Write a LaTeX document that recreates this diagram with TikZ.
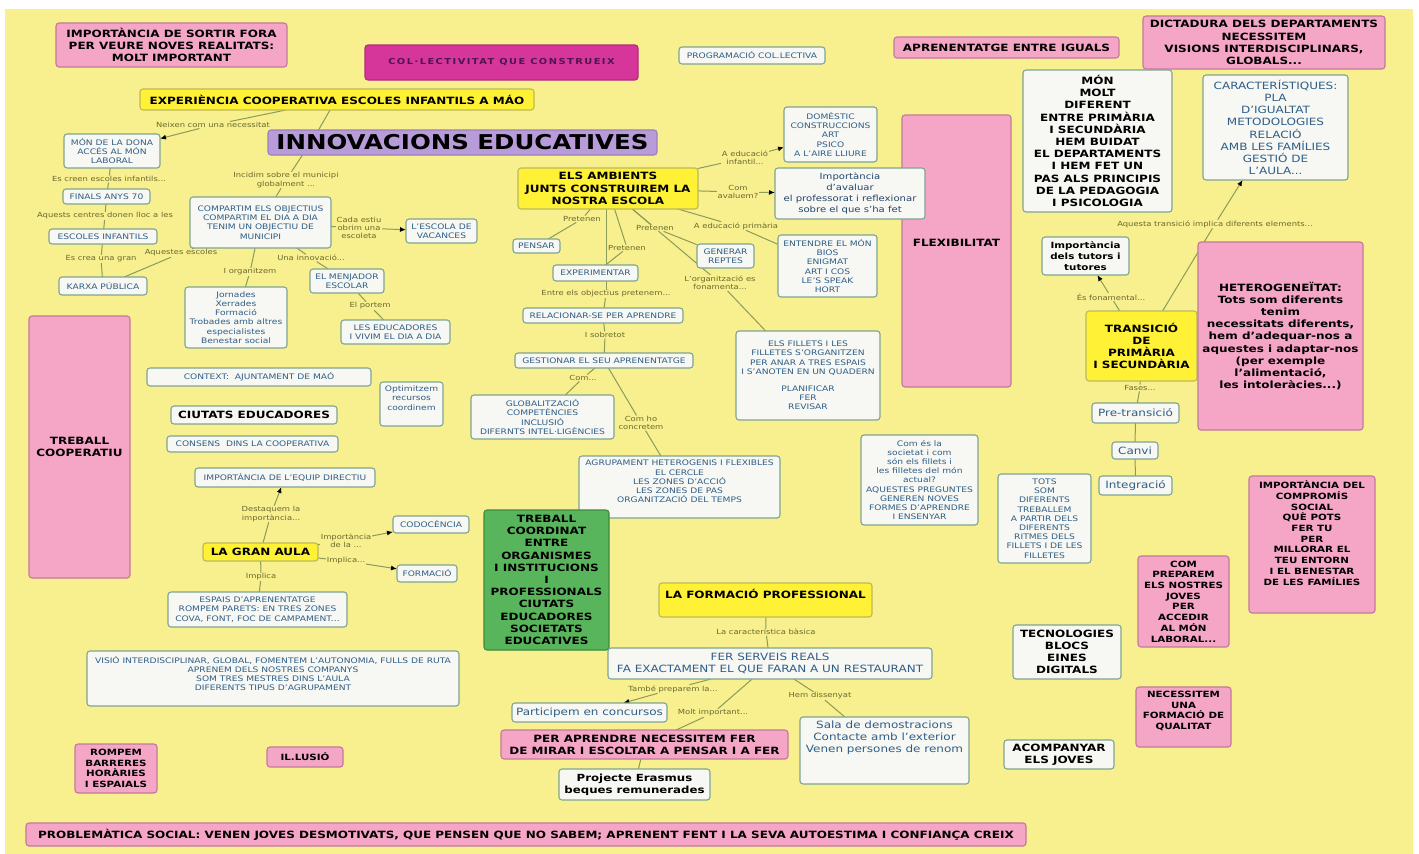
\documentclass[tikz,border=0pt]{standalone}
\usepackage{fontspec}
\setmainfont{DejaVu Sans}[FakeStretch=1.2]
\usetikzlibrary{arrows.meta}
\definecolor{bgy}{HTML}{F8EF8F}
\definecolor{wfill}{HTML}{F7F7F3}
\definecolor{wdraw}{HTML}{7FA590}
\definecolor{bluet}{HTML}{2E5E88}
\definecolor{dblue}{HTML}{23456A}
\definecolor{pinkf}{HTML}{F5A5C6}
\definecolor{pinkd}{HTML}{C27A99}
\definecolor{yelf}{HTML}{FFF236}
\definecolor{yeld}{HTML}{BDB85A}
\definecolor{magf}{HTML}{D6359A}
\definecolor{magd}{HTML}{B02A80}
\definecolor{magt}{HTML}{4E1550}
\definecolor{lavf}{HTML}{B89CD9}
\definecolor{lavd}{HTML}{9A80BE}
\definecolor{grnf}{HTML}{59B55B}
\definecolor{grnd}{HTML}{3B8A3E}
\definecolor{lblc}{HTML}{69692E}
\definecolor{linec}{HTML}{8A9C58}
\newcommand\FBig{\fontsize{10}{12.2}\selectfont\bfseries}
\newcommand\FMed{\fontsize{8.6}{10.7}\selectfont\bfseries}
\newcommand\FSm{\fontsize{7.6}{9.2}\selectfont}
\newcommand\FLbl{\fontsize{7}{8.2}\selectfont}
\newcommand\FMr{\fontsize{10}{12.2}\selectfont}
\newcommand\FPr{\fontsize{10}{12.2}\selectfont}
\newcommand\FAv{\fontsize{8.4}{11}\selectfont}
\newcommand\FEr{\fontsize{9.8}{11.7}\selectfont\bfseries}
\newcommand\BX[7]{\node[#2,minimum width={#5-#3},minimum height={#6-#4}] (#1) at ({(#3+#5)/2},{(#4+#6)/2}) {#7};}
\pgfdeclarelayer{back}\pgfdeclarelayer{wires}\pgfsetlayers{back,wires,main}
\tikzset{
  box/.style={draw, rounded corners=3pt, line width=1.1pt, align=center, inner sep=1pt, outer sep=0pt},
  wbox/.style={box, fill=wfill, draw=wdraw, text=bluet, font=\FSm},
  pbox/.style={box, fill=pinkf, draw=pinkd, text=black, font=\FBig},
  ybox/.style={box, fill=yelf, draw=yeld, text=black, font=\FBig},
  mbox/.style={box, fill=magf, draw=magd, text=magt},
  lavbox/.style={box, fill=lavf, draw=lavd, text=black},
  gbox/.style={box, fill=grnf, draw=grnd, text=black, font=\FBig},
  txt/.style={align=center, inner sep=0pt},
  lbl/.style={fill=bgy, inner sep=0.6pt, text=lblc, align=center, font=\FLbl},
  conn/.style={draw=linec, line width=1pt},
  arr/.style={conn, -{Latex[length=6pt,width=5pt,color=black]}},
}
\begin{document}
\begin{tikzpicture}[x=1pt,y=-1pt]
\begin{pgfonlayer}{back}
\fill[white] (0,0) rectangle (1419,854);
\fill[bgy] (5,9) rectangle (1413,854);
\end{pgfonlayer}
\useasboundingbox (0,0) rectangle (1419,854);
% top row
\BX{sortir}{pbox}{56}{23}{287}{67}{IMPORTÀNCIA DE SORTIR FORA\\PER VEURE NOVES REALITATS:\\MOLT IMPORTANT}
\BX{col}{mbox,font={\fontsize{8.2}{9}\selectfont\bfseries\addfontfeature{LetterSpace=18}}}{365}{45}{638}{80}{COL·LECTIVITAT QUE CONSTRUEIX}
\BX{prog}{wbox}{679}{47}{825}{64}{PROGRAMACIÓ COL.LECTIVA}
\BX{iguals}{pbox}{894}{37}{1119}{58}{APRENENTATGE ENTRE IGUALS}
\BX{dict}{pbox}{1143}{16}{1385}{69}{DICTADURA DELS DEPARTAMENTS\\NECESSITEM\\VISIONS INTERDISCIPLINARS,\\GLOBALS...}
\BX{exp}{ybox}{140}{89}{534}{110}{EXPERIÈNCIA COOPERATIVA ESCOLES INFANTILS A MÁO}
\BX{innov}{lavbox,font={\fontsize{20.4}{24}\selectfont\bfseries}}{268}{130}{657}{155}{INNOVACIONS EDUCATIVES}
% left column
\BX{mondona}{wbox}{64}{134}{160}{168}{MÓN DE LA DONA\\ACCÉS AL MÓN\\LABORAL}
\BX{finals}{wbox}{63}{189}{150}{204}{FINALS ANYS 70}
\BX{escoles}{wbox}{49}{229}{157}{244}{ESCOLES INFANTILS}
\BX{karxa}{wbox}{59}{277}{147}{295}{KARXA PÚBLICA}
\BX{compartim}{wbox}{190}{197}{331}{248}{COMPARTIM ELS OBJECTIUS\\COMPARTIM EL DIA A DIA\\TENIM UN OBJECTIU DE\\MUNICIPI}
\BX{vacances}{wbox}{406}{219}{477}{243}{L'ESCOLA DE\\VACANCES}
\BX{menjador}{wbox}{310}{269}{384}{293}{EL MENJADOR\\ESCOLAR}
\BX{jornades}{wbox}{185}{287}{287}{348}{Jornades\\Xerrades\\Formació\\Trobades amb altres\\especialistes\\Benestar social}
\BX{educadores}{wbox}{341}{320}{450}{344}{LES EDUCADORES\\I VIVIM EL DIA A DIA}
\BX{treballc}{pbox}{29}{316}{130}{578}{TREBALL\\COOPERATIU}
\BX{context}{wbox}{147}{368}{371}{386}{CONTEXT:\ \ AJUNTAMENT DE MAÓ}
\BX{optim}{wbox}{380}{382}{443}{426}{}
\node[txt,text=bluet,font=\FSm] (optimt) at (411.5,398) {Optimitzem\\recursos\\coordinem};
\BX{ciutats}{wbox,text=black,font=\FBig}{171}{406}{337}{424}{CIUTATS EDUCADORES}
\BX{consens}{wbox}{167}{436}{338}{452}{CONSENS\ \ DINS LA COOPERATIVA}
\BX{equip}{wbox}{195}{468}{375}{487}{IMPORTÀNCIA DE L'EQUIP DIRECTIU}
\BX{gran}{ybox}{203}{543}{318}{561}{LA GRAN AULA}
\BX{codo}{wbox}{393}{516}{469}{533}{CODOCÈNCIA}
\BX{formacio}{wbox}{397}{565}{457}{582}{FORMACIÓ}
\BX{espais}{wbox}{168}{592}{347}{627}{ESPAIS D'APRENENTATGE\\ROMPEM PARETS: EN TRES ZONES\\COVA, FONT, FOC DE CAMPAMENT...}
\BX{visio}{wbox}{87}{651}{459}{706}{}
\node[txt,text=bluet,font=\FSm] (visiot) at (273,673.5) {VISIÓ INTERDISCIPLINAR, GLOBAL, FOMENTEM L'AUTONOMIA, FULLS DE RUTA\\APRENEM DELS NOSTRES COMPANYS\\SOM TRES MESTRES DINS L'AULA\\DIFERENTS TIPUS D'AGRUPAMENT};
\BX{rompem}{pbox,font=\FMed}{75}{744}{157}{793}{ROMPEM\\BARRERES\\HORÀRIES\\I ESPAIALS}
\BX{ilusio}{pbox,font=\FMed}{267}{747}{343}{767}{IL.LUSIÓ}
\BX{probl}{pbox,font={\fontsize{10}{12}\selectfont\bfseries}}{26}{823}{1026}{846}{PROBLEMÀTICA SOCIAL: VENEN JOVES DESMOTIVATS, QUE PENSEN QUE NO SABEM; APRENENT FENT I LA SEVA AUTOESTIMA I CONFIANÇA CREIX}
% centre
\BX{flex}{pbox}{902}{115}{1011}{387}{}
\node[txt,font=\FBig] (flext) at (956.5,243) {FLEXIBILITAT};
\BX{amb}{ybox}{518}{168}{698}{209}{ELS AMBIENTS\\JUNTS CONSTRUIREM LA\\NOSTRA ESCOLA}
\BX{domestic}{wbox}{784}{107}{877}{162}{DOMÈSTIC\\CONSTRUCCIONS\\ART\\PSICO\\A L'AIRE LLIURE}
\BX{avaluar}{wbox,text=dblue,font=\FAv}{775}{168}{925}{219}{Importància\\d'avaluar\\el professorat i reflexionar\\sobre el que s'ha fet}
\BX{pensar}{wbox}{513}{239}{560}{253}{PENSAR}
\BX{experimentar}{wbox}{553}{265}{638}{281}{EXPERIMENTAR}
\BX{generar}{wbox}{697}{244}{754}{268}{GENERAR\\REPTES}
\BX{entendre}{wbox}{778}{235}{877}{297}{ENTENDRE EL MÓN\\BIOS\\ENIGMAT\\ART I COS\\LE'S SPEAK\\HORT}
\BX{relacionar}{wbox}{523}{308}{683}{323}{RELACIONAR-SE PER APRENDRE}
\BX{gestionar}{wbox}{515}{353}{693}{368}{GESTIONAR EL SEU APRENENTATGE}
\BX{global}{wbox}{471}{395}{614}{439}{GLOBALITZACIÓ\\COMPETÈNCIES\\INCLUSIÓ\\DIFERNTS INTEL·LIGÈNCIES}
\BX{fillets}{wbox}{736}{331}{880}{420}{ELS FILLETS I LES\\FILLETES S'ORGANITZEN\\PER ANAR A TRES ESPAIS\\I S'ANOTEN EN UN QUADERN\\[8pt]PLANIFICAR\\FER\\REVISAR}
\BX{agrup}{wbox}{579}{456}{780}{518}{}
\node[txt,text=bluet,font=\FSm] (agrupt) at (679.5,481.5) {AGRUPAMENT HETEROGENIS I FLEXIBLES\\EL CERCLE\\LES ZONES D'ACCIÓ\\LES ZONES DE PAS\\ORGANITZACIÓ DEL TEMPS};
\BX{coord}{gbox}{484}{510}{609}{650}{TREBALL\\COORDINAT\\ENTRE\\ORGANISMES\\I INSTITUCIONS\\I\\PROFESSIONALS\\CIUTATS\\EDUCADORES\\SOCIETATS\\EDUCATIVES}
\BX{comes}{wbox}{861}{435}{978}{525}{Com és la\\societat i com\\són els fillets i\\les filletes del món\\actual?\\AQUESTES PREGUNTES\\GENEREN NOVES\\FORMES D'APRENDRE\\I ENSENYAR}
\BX{tots}{wbox}{998}{474}{1091}{563}{TOTS\\SOM\\DIFERENTS\\TREBALLEM\\A PARTIR DELS\\DIFERENTS\\RITMES DELS\\FILLETS I DE LES\\FILLETES}
% right
\BX{monmolt}{wbox,text=black,font=\FBig}{1023}{70}{1172}{212}{MÓN\\MOLT\\DIFERENT\\ENTRE PRIMÀRIA\\I SECUNDÀRIA\\HEM BUIDAT\\EL DEPARTAMENTS\\I HEM FET UN\\PAS ALS PRINCIPIS\\DE LA PEDAGOGIA\\I PSICOLOGIA}
\BX{caract}{wbox,font=\FMr}{1203}{75}{1348}{180}{CARACTERÍSTIQUES:\\PLA\\D'IGUALTAT\\METODOLOGIES\\RELACIÓ\\AMB LES FAMÍLIES\\GESTIÓ DE\\L'AULA...}
\BX{tutors}{wbox,text=black,font=\FMed}{1042}{237}{1129}{275}{Importància\\dels tutors i\\tutores}
\BX{trans}{ybox}{1086}{311}{1197}{381}{TRANSICIÓ\\DE\\PRIMÀRIA\\I SECUNDÀRIA}
\BX{heter}{pbox}{1198}{242}{1363}{430}{HETEROGENEÏTAT:\\Tots som diferents\\tenim\\necessitats diferents,\\hem d'adequar-nos a\\aquestes i adaptar-nos\\(per exemple\\l'alimentació,\\les intoleràcies...)}
\BX{pret}{wbox,font=\FPr}{1092}{403}{1179}{423}{Pre-transició}
\BX{canvi}{wbox,font=\FPr}{1112}{442}{1158}{459}{Canvi}
\BX{integ}{wbox,font=\FPr}{1099}{476}{1172}{495}{Integració}
\BX{compromis}{pbox}{1249}{476}{1375}{613}{}
\node[txt,font=\FMed] (compromist) at (1312,533) {IMPORTÀNCIA DEL\\COMPROMÍS\\SOCIAL\\QUÈ POTS\\FER TU\\PER\\MILLORAR EL\\TEU ENTORN\\I EL BENESTAR\\DE LES FAMÍLIES};
\BX{compre}{pbox,font=\FMed}{1138}{556}{1229}{647}{COM\\PREPAREM\\ELS NOSTRES\\JOVES\\PER\\ACCEDIR\\AL MÓN\\LABORAL...}
\BX{tecno}{wbox,text=black,font=\FBig}{1013}{625}{1121}{679}{TECNOLOGIES\\BLOCS\\EINES\\DIGITALS}
\BX{necess}{pbox}{1136}{687}{1231}{747}{}
\node[txt,font=\FMed] (necesst) at (1183.5,711) {NECESSITEM\\UNA\\FORMACIÓ DE\\QUALITAT};
\BX{acomp}{wbox,text=black,font=\FBig}{1004}{740}{1114}{769}{ACOMPANYAR\\ELS JOVES}
% bottom centre
\BX{fprof}{ybox}{659}{583}{872}{617}{}
\node[txt,font=\FBig] (fproft) at (765.5,594) {LA FORMACIÓ PROFESSIONAL};
\BX{serveis}{wbox,font=\FPr}{608}{648}{932}{679}{FER SERVEIS REALS\\FA EXACTAMENT EL QUE FARAN A UN RESTAURANT}
\BX{partic}{wbox,font=\FPr}{512}{703}{667}{722}{Participem en concursos}
\BX{sala}{wbox}{800}{717}{969}{784}{}
\node[txt,text=bluet,font=\FPr] (salat) at (884.5,738) {Sala de demostracions\\Contacte amb l'exterior\\Venen persones de renom};
\BX{peraprendre}{pbox}{501}{730}{788}{759}{PER APRENDRE NECESSITEM FER\\DE MIRAR I ESCOLTAR A PENSAR I A FER}
\BX{erasmus}{wbox,text=black,font=\FEr}{559}{769}{710}{800}{Projecte Erasmus\\beques remunerades}
% labels
\node[lbl] (L1) at (213,125) {Neixen com una necessitat};
\node[lbl] (L2) at (109,179) {Es creen escoles infantils...};
\node[lbl] (L3) at (105,216) {Aquests centres donen lloc a les};
\node[lbl] (L4) at (101,259) {Es crea una gran};
\node[lbl] (L5) at (181,253) {Aquestes escoles};
\node[lbl] (L6) at (286,180) {Incidim sobre el municipi\\globalment ...};
\node[lbl] (L7) at (359,228) {Cada estiu\\obrim una\\escoleta};
\node[lbl] (L8) at (311,258) {Una innovació...};
\node[lbl] (L9) at (250,272) {I organitzem};
\node[lbl] (L10) at (370,306) {El portem};
\node[lbl] (L11) at (271,514) {Destaquem la\\importància...};
\node[lbl] (L12) at (346,541) {Importància\\de la ...};
\node[lbl] (L13) at (346,561) {Implica...};
\node[lbl] (L14) at (261,577) {Implica};
\node[lbl] (L15) at (745,158) {A educació\\infantil...};
\node[lbl] (L16) at (738,192) {Com\\avaluem?};
\node[lbl] (L17) at (736,226) {A educació primària};
\node[lbl] (L18) at (582,219) {Pretenen};
\node[lbl] (L19) at (627,248) {Pretenen};
\node[lbl] (L20) at (655,228) {Pretenen};
\node[lbl] (L21) at (720,283) {L'organització es\\fonamenta...};
\node[lbl] (L22) at (606,294) {Entre els objectius pretenem...};
\node[lbl] (L23) at (605,335) {I sobretot};
\node[lbl] (L24) at (583,378) {Com...};
\node[lbl] (L25) at (641,423) {Com ho\\concretem};
\node[lbl] (L26) at (1215,224) {Aquesta transició implica diferents elements...};
\node[lbl] (L27) at (1111,297) {És fonamental...};
\node[lbl] (L28) at (1140,388) {Fases...};
\node[lbl] (L29) at (766,632) {La característica bàsica};
\node[lbl] (L30) at (673,689) {També preparem la...};
\node[lbl] (L31) at (713,713) {Molt important...};
\node[lbl] (L32) at (820,696) {Hem dissenyat};
% connectors
\begin{pgfonlayer}{wires}
\draw[conn] (exp) -- (L1);
\draw[arr] (L1) -- (mondona);
\draw[conn] ([xshift=-7pt]exp.south) -- ([xshift=-144pt]innov.north);
\draw[conn] ([xshift=-160pt]innov.south) -- (L6);
\draw[conn] (L6) -- (compartim);
\draw[conn] (mondona) -- (L2);
\draw[conn] (L2) -- (finals);
\draw[conn] (finals) -- (L3);
\draw[conn] (L3) -- (escoles);
\draw[conn] (escoles) -- (L4);
\draw[conn] (L4) -- (karxa);
\draw[conn] (compartim) -- (L5);
\draw[conn] (L5) -- (karxa);
\draw[conn] (compartim) -- (L7);
\draw[arr] (L7) -- (vacances);
\draw[conn] (compartim) -- (L8);
\draw[conn] (L8) -- (menjador);
\draw[conn] (compartim) -- (L9);
\draw[conn] (L9) -- (jornades);
\draw[conn] (menjador) -- (L10);
\draw[conn] (L10) -- (educadores);
\draw[conn] (gran) -- (L11);
\draw[arr] (L11) -- (equip);
\draw[conn] (gran) -- (L12);
\draw[arr] (L12) -- (codo);
\draw[conn] (gran) -- (L13);
\draw[arr] (L13) -- (formacio);
\draw[conn] (gran) -- (L14);
\draw[conn] (L14) -- (espais);
\draw[conn] (amb) -- (L15);
\draw[arr] (L15) -- (domestic);
\draw[conn] (amb) -- (L16);
\draw[arr] (L16) -- (avaluar);
\draw[conn] (amb) -- (L17);
\draw[conn] (L17) -- (entendre);
\draw[conn] (amb) -- (L18);
\draw[conn] (L18) -- (pensar);
\draw[conn] (amb) -- (L19);
\draw[conn] (L19) -- (experimentar);
\draw[conn] (amb) -- (L20);
\draw[conn] (L20) -- (generar);
\draw[conn] (amb) -- (L21);
\draw[conn] (L21) -- (fillets);
\draw[conn] (amb.south -| L22.north) -- (L22.north);
\draw[conn] (L22) -- (relacionar);
\draw[conn] (relacionar) -- (L23);
\draw[conn] (L23) -- (gestionar);
\draw[conn] (gestionar) -- (L24);
\draw[conn] (L24) -- (global);
\draw[conn] (gestionar) -- (L25);
\draw[conn] (L25) -- (agrup);
\draw[conn] (trans) -- (L27);
\draw[arr] (L27) -- (tutors);
\draw[conn] (trans) -- (L26);
\draw[arr] (L26) -- (caract);
\draw[conn] (trans) -- (L28);
\draw[conn] (L28) -- (pret);
\draw[conn] (pret) -- (canvi);
\draw[conn] (canvi) -- (integ);
\draw[conn] (fprof) -- (L29);
\draw[conn] (L29) -- (serveis);
\draw[conn] (serveis) -- (L30);
\draw[arr] (L30) -- (partic);
\draw[conn] (serveis) -- (L31);
\draw[conn] (L31) -- (peraprendre);
\draw[conn] (serveis) -- (L32);
\draw[conn] (L32) -- (sala);
\draw[conn] (peraprendre) -- (erasmus);
\end{pgfonlayer}
\end{tikzpicture}
\end{document}
